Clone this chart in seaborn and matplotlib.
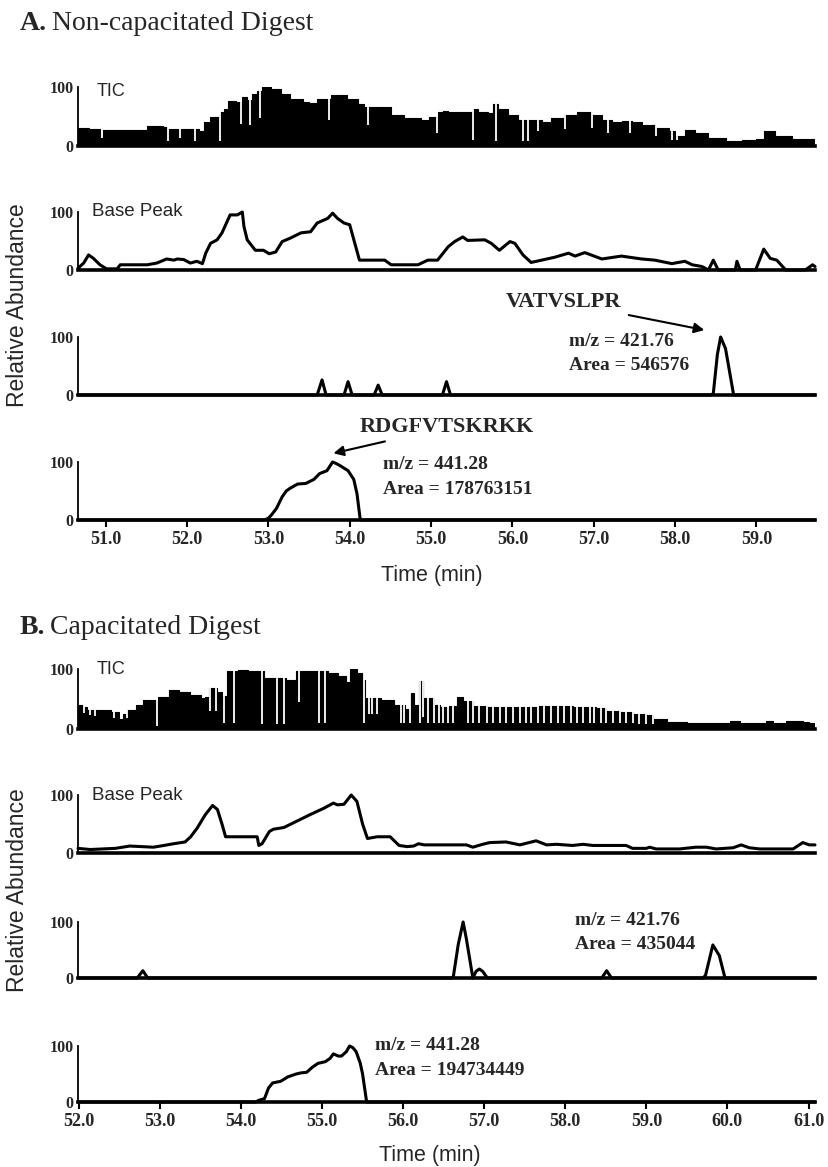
import matplotlib
matplotlib.use("Agg")
import matplotlib.pyplot as plt
import seaborn as sns

# ---------------- data ----------------
# Panel A: Non-capacitated digest
a_ticks = [51.0, 52.0, 53.0, 54.0, 55.0, 56.0, 57.0, 58.0, 59.0]
a_xlim = (50.66, 59.72)

a_tic_t = [50.66, 50.80, 50.93, 50.97, 51.30, 51.51, 51.70, 51.75, 52.00, 52.15, 52.21, 52.28,
           52.38, 52.41, 52.46, 52.51, 52.60, 52.68, 52.74, 52.80, 52.86, 52.92, 53.03, 53.15,
           53.27, 53.43, 53.50, 53.60, 53.77, 53.97, 54.10, 54.18, 54.30, 54.51, 54.67, 54.88,
           54.98, 55.08, 55.15, 55.21, 55.49, 55.52, 55.58, 55.70, 55.76, 55.82, 55.95, 56.07,
           56.20, 56.36, 56.48, 56.64, 56.80, 56.97, 57.10, 57.22, 57.35, 57.47, 57.59, 57.75,
           57.92, 58.00, 58.12, 58.25, 58.41, 58.62, 58.82, 58.99, 59.09, 59.23, 59.44, 59.72]
a_tic_v = [30, 28, 13, 27, 27, 34, 32, 28, 28, 26, 41, 50,
           50, 58, 63, 77, 75, 83, 78, 88, 94, 100, 97, 88,
           80, 75, 73, 80, 86, 80, 72, 66, 66, 52, 47, 44,
           50, 58, 60, 58, 58, 63, 58, 56, 72, 63, 52, 44,
           44, 41, 47, 52, 58, 52, 44, 41, 43, 41, 36, 30,
           25, 17, 27, 22, 13, 9, 10, 12, 26, 17, 12, 10]
a_tic_gap_t = [51.77, 51.92, 52.10, 52.41, 52.66, 52.78, 52.90, 53.75, 54.22, 55.07,
               55.51, 55.80, 56.13, 56.19, 56.32, 56.65, 56.98, 57.18, 57.45, 57.77, 57.96, 58.02]
a_tic_gap_b = [8, 13, 8, 8, 38, 35, 47, 44, 35, 22,
               10, 8, 8, 8, 25, 29, 30, 22, 22, 17, 10, 10]

a_bp_t = [50.66, 50.73, 50.79, 50.85, 50.93, 51.01, 51.14, 51.18, 51.51, 51.63, 51.75, 51.84,
          51.88, 51.96, 52.04, 52.12, 52.19, 52.23, 52.29, 52.37, 52.43, 52.53, 52.62, 52.68,
          52.70, 52.74, 52.84, 52.94, 53.01, 53.09, 53.17, 53.27, 53.40, 53.52, 53.60, 53.73,
          53.79, 53.85, 53.93, 54.00, 54.12, 54.43, 54.51, 54.84, 54.96, 55.08, 55.16, 55.21,
          55.29, 55.39, 55.45, 55.66, 55.74, 55.84, 55.97, 56.03, 56.13, 56.23, 56.36, 56.52,
          56.69, 56.77, 56.89, 57.10, 57.34, 57.59, 57.75, 57.96, 58.12, 58.21, 58.33, 58.41,
          58.47, 58.53, 58.74, 58.76, 58.80, 58.99, 59.09, 59.17, 59.25, 59.36, 59.60, 59.69, 59.72]
a_bp_v = [3, 12, 26, 20, 9, 2, 2, 9, 9, 12, 19, 17,
          19, 18, 12, 15, 11, 29, 46, 52, 64, 95, 95, 100,
          75, 52, 34, 34, 28, 31, 49, 55, 64, 66, 81, 89,
          98, 89, 81, 78, 17, 17, 9, 9, 17, 17, 31, 40,
          49, 57, 51, 52, 46, 34, 49, 46, 26, 13, 17, 22,
          29, 24, 30, 19, 24, 19, 17, 11, 15, 9, 6, 0,
          17, 0, 0, 15, 0, 0, 36, 20, 17, 0, 0, 9, 6]

a_x1_t = [50.66, 53.60, 53.66, 53.71, 53.93, 53.98, 54.03, 54.30, 54.35, 54.40, 55.14, 55.19,
          55.24, 58.45, 58.47, 58.52, 58.56, 58.62, 58.67, 58.72, 59.72]
a_x1_v = [0, 0, 26, 0, 0, 23, 0, 0, 17, 0, 0, 23,
          0, 0, 3, 70, 100, 80, 40, 0, 0]

a_x2_t = [50.66, 52.95, 53.00, 53.04, 53.10, 53.17, 53.22, 53.27, 53.36, 53.46, 53.56, 53.63,
          53.72, 53.79, 53.84, 53.89, 53.98, 54.05, 54.09, 54.13, 59.72]
a_x2_v = [0, 0, 3, 9, 20, 40, 50, 55, 62, 63, 70, 80,
          85, 100, 97, 93, 85, 70, 45, 0, 0]

# Panel B: Capacitated digest
b_ticks = [52.0, 53.0, 54.0, 55.0, 56.0, 57.0, 58.0, 59.0, 60.0, 61.0]
b_xlim = (51.99, 61.08)

b_tic_t = [51.99, 52.05, 52.10, 52.26, 52.40, 52.49, 52.55, 52.59, 52.70, 52.79, 52.98, 53.11,
           53.24, 53.37, 53.51, 53.56, 53.60, 53.70, 53.76, 53.83, 53.96, 54.09, 54.22, 54.29,
           54.42, 54.55, 54.68, 54.81, 54.94, 55.07, 55.20, 55.30, 55.35, 55.43, 55.50, 55.53,
           55.73, 55.89, 56.02, 56.09, 56.13, 56.19, 56.24, 56.38, 56.45, 56.57, 56.66, 56.74,
           56.86, 57.03, 57.27, 57.68, 58.09, 58.38, 58.50, 58.67, 58.83, 59.00, 59.08, 59.25,
           59.50, 60.03, 60.15, 60.48, 60.56, 60.72, 60.93, 61.01, 61.08]
b_tic_v = [40, 37, 31, 31, 28, 17, 25, 31, 40, 48, 54, 65,
           62, 56, 51, 54, 68, 62, 55, 96, 99, 96, 96, 85,
           85, 82, 96, 96, 96, 93, 88, 79, 100, 93, 82, 51,
           48, 40, 34, 60, 40, 80, 51, 40, 37, 39, 53, 46,
           39, 37, 36, 39, 37, 35, 30, 28, 25, 23, 17, 12,
           10, 13, 10, 13, 10, 13, 12, 10, 8]
b_tic_gap_t = [52.07, 52.14, 52.20, 52.43, 52.52, 52.60, 52.97, 53.62, 53.69, 53.79, 53.91,
               54.26, 54.45, 54.53, 54.71, 54.96, 55.04, 55.52, 55.58, 55.62, 55.68, 55.97,
               56.01, 56.09, 56.21, 56.25, 56.31, 56.38, 56.44, 56.49, 56.55, 56.61, 56.80,
               56.86, 56.94, 57.03, 57.11, 57.19, 57.27, 57.35, 57.44, 57.52, 57.58, 57.66,
               57.74, 57.83, 57.91, 57.99, 58.07, 58.14, 58.22, 58.30, 58.36, 58.44, 58.50,
               58.59, 58.67, 58.75, 58.83, 58.91, 58.99, 59.08]
b_tic_gap_b = [26, 24, 22, 18, 18, 18, 5, 30, 30, 10, 10,
               8, 8, 8, 45, 10, 10, 10, 25, 25, 25, 10,
               10, 10, 10, 20, 10, 10, 10, 10, 10, 10, 10,
               10, 10, 10, 10, 10, 10, 10, 10, 10, 10, 10,
               10, 10, 10, 10, 10, 10, 10, 10, 10, 10, 10,
               10, 10, 10, 10, 9, 9, 9]

b_bp_t = [51.99, 52.14, 52.45, 52.63, 52.92, 53.05, 53.17, 53.31, 53.38, 53.46, 53.56, 53.65,
          53.71, 53.77, 53.81, 54.20, 54.22, 54.26, 54.35, 54.40, 54.53, 54.69, 54.85, 55.02,
          55.14, 55.19, 55.27, 55.31, 55.36, 55.43, 55.50, 55.56, 55.68, 55.84, 55.95, 56.05,
          56.13, 56.19, 56.26, 56.78, 56.86, 56.98, 57.07, 57.27, 57.44, 57.64, 57.77, 57.89,
          58.09, 58.22, 58.34, 58.75, 58.83, 59.00, 59.04, 59.12, 59.41, 59.61, 59.74, 59.86,
          60.07, 60.17, 60.27, 60.40, 60.81, 60.93, 61.01, 61.08]
b_bp_v = [8, 6, 8, 12, 10, 13, 16, 19, 28, 43, 66, 82,
          75, 48, 28, 28, 13, 16, 37, 41, 44, 55, 66, 77,
          86, 83, 84, 91, 100, 89, 50, 25, 28, 28, 13, 11,
          12, 16, 14, 14, 10, 15, 18, 19, 14, 21, 14, 15,
          13, 15, 13, 13, 8, 8, 10, 7, 7, 10, 10, 7,
          9, 14, 9, 7, 7, 18, 14, 14]

b_x1_t = [51.99, 52.72, 52.79, 52.85, 56.60, 56.62, 56.68, 56.74, 56.78, 56.86, 56.90, 56.94,
          56.98, 57.04, 58.45, 58.51, 58.57, 59.70, 59.73, 59.82, 59.90, 59.97, 61.08]
b_x1_v = [0, 0, 13, 0, 0, 3, 60, 100, 70, 0, 12, 16,
          12, 0, 0, 13, 0, 0, 5, 59, 40, 0, 0]

b_x2_t = [51.99, 54.18, 54.22, 54.29, 54.34, 54.39, 54.49, 54.58, 54.68, 54.74, 54.81, 54.88,
          54.95, 55.04, 55.10, 55.14, 55.20, 55.24, 55.30, 55.34, 55.38, 55.42, 55.47, 55.50,
          55.55, 61.08]
b_x2_v = [0, 0, 3, 6, 25, 34, 37, 45, 50, 52, 53, 62,
          69, 72, 78, 86, 82, 82, 90, 100, 97, 90, 70, 50,
          0, 0]

# ---------------- style ----------------
sns.set_theme(style="white")
plt.rcParams["font.family"] = ["Liberation Sans", "DejaVu Sans"]

W, H = 829, 1167
fig = plt.figure(figsize=(W / 100, H / 100), dpi=100)

SERIF = "Liberation Serif"
LEFT, RIGHT = 78, 815


def fx(x):
    return x / W


def fy(y):
    return 1 - y / H


def make_ax(top, bottom, xlim, ticks=None):
    ax = fig.add_axes([fx(LEFT), fy(bottom), (RIGHT - LEFT) / W, (bottom - top) / H])
    ax.set_facecolor("none")
    ax.set_xlim(*xlim)
    ax.set_ylim(0, 100)
    for s in ("top", "right"):
        ax.spines[s].set_visible(False)
    ax.spines["left"].set_color("black")
    ax.spines["left"].set_linewidth(1.3)
    ax.spines["bottom"].set_color("black")
    ax.spines["bottom"].set_linewidth(2.6)
    ax.set_yticks([0, 100])
    ax.set_yticklabels(["0", "100"], fontfamily=SERIF, fontweight="bold", fontsize=11.5)
    ax.tick_params(axis="y", length=0, pad=3)
    if ticks is None:
        ax.set_xticks([])
    else:
        ax.set_xticks(ticks)
        ax.set_xticklabels([f"{t:.1f}" for t in ticks], fontfamily=SERIF,
                           fontweight="bold", fontsize=13)
        ax.tick_params(axis="x", direction="out", length=5, width=1.5,
                       color="black", pad=3, bottom=True)
    ax.set_xlabel("")
    ax.set_ylabel("")
    ax.grid(False)
    return ax


def trace(ax, t, v, lw=2.2):
    sns.lineplot(x=t, y=v, ax=ax, color="black", linewidth=lw,
                 estimator=None, sort=False, legend=False)
    for ln in ax.lines:
        ln.set_clip_on(False)
    ax.set_xlabel("")
    ax.set_ylabel("")


def tic(ax, t, v, gap_t, gap_b):
    ax.fill_between(t, v, 0, step="post", color="black", linewidth=0)
    sns.lineplot(x=t, y=v, ax=ax, color="black", linewidth=0.8, drawstyle="steps-post",
                 estimator=None, sort=False, legend=False)
    ax.vlines(gap_t, gap_b, 100, color="white", linewidth=1.3)
    ax.set_xlabel("")
    ax.set_ylabel("")


def title(y, letter, rest):
    t1 = fig.text(fx(20), fy(y), letter, fontfamily=SERIF, fontweight="bold",
                  fontsize=20, va="center", ha="left")
    fig.canvas.draw()
    bb = t1.get_window_extent()
    fig.text((bb.x1 + 5) / W, fy(y), rest, fontfamily=SERIF, fontsize=20,
             va="center", ha="left")


ann = dict(fontfamily=SERIF, fontweight="bold", fontsize=14, va="center", ha="left")
pep = dict(fontfamily=SERIF, fontweight="bold", fontsize=16, va="center")
arrow = dict(arrowstyle="-|>", color="black", lw=1.5, mutation_scale=15, shrinkA=3, shrinkB=0)

# ---------------- Panel A ----------------
title(24, "A.", "Non-capacitated Digest")

axA1 = make_ax(87, 146, a_xlim)
tic(axA1, a_tic_t, a_tic_v, a_tic_gap_t, a_tic_gap_b)
fig.text(fx(97), fy(92), "TIC", fontsize=13, va="center", ha="left")

axA2 = make_ax(212, 270, a_xlim)
trace(axA2, a_bp_t, a_bp_v)
fig.text(fx(92), fy(211), "Base Peak", fontsize=13.5, va="center", ha="left")

axA3 = make_ax(337, 395, a_xlim)
trace(axA3, a_x1_t, a_x1_v)
axA3.annotate("VATVSLPR", xy=(58.36, 112), xytext=(57.34, 160), textcoords="data",
              ha="right", annotation_clip=False, arrowprops=arrow, **pep)
axA3.text(56.70, 93, "m/z = 421.76", **ann)
axA3.text(56.70, 50, "Area = 546576", **ann)

axA4 = make_ax(462, 520, a_xlim, a_ticks)
trace(axA4, a_x2_t, a_x2_v)
axA4.annotate("RDGFVTSKRKK", xy=(53.80, 115), xytext=(54.12, 160), textcoords="data",
              ha="left", annotation_clip=False, arrowprops=arrow, **pep)
axA4.text(54.41, 96, "m/z = 441.28", **ann)
axA4.text(54.41, 53, "Area = 178763151", **ann)

fig.text(fx(432), fy(576), "Time (min)", fontsize=15.5, va="center", ha="center")
fig.text(fx(18), fy(305), "Relative Abundance", fontsize=16.5, rotation=90,
         va="center", ha="center")

# ---------------- Panel B ----------------
title(628, "B.", "Capacitated Digest")

axB1 = make_ax(669, 729, b_xlim)
tic(axB1, b_tic_t, b_tic_v, b_tic_gap_t, b_tic_gap_b)
fig.text(fx(97), fy(670), "TIC", fontsize=13, va="center", ha="left")

axB2 = make_ax(795, 853, b_xlim)
trace(axB2, b_bp_t, b_bp_v)
fig.text(fx(92), fy(795), "Base Peak", fontsize=13.5, va="center", ha="left")

axB3 = make_ax(922, 978, b_xlim)
trace(axB3, b_x1_t, b_x1_v)
axB3.text(58.12, 103, "m/z = 421.76", **ann)
axB3.text(58.12, 59, "Area = 435044", **ann)

axB4 = make_ax(1046, 1102, b_xlim, b_ticks)
trace(axB4, b_x2_t, b_x2_v)
axB4.text(55.65, 100, "m/z = 441.28", **ann)
axB4.text(55.65, 56, "Area = 194734449", **ann)

fig.text(fx(430), fy(1155), "Time (min)", fontsize=15.5, va="center", ha="center")
fig.text(fx(18), fy(890), "Relative Abundance", fontsize=16.5, rotation=90,
         va="center", ha="center")

fig.savefig("out.png", dpi=100, facecolor="white")
